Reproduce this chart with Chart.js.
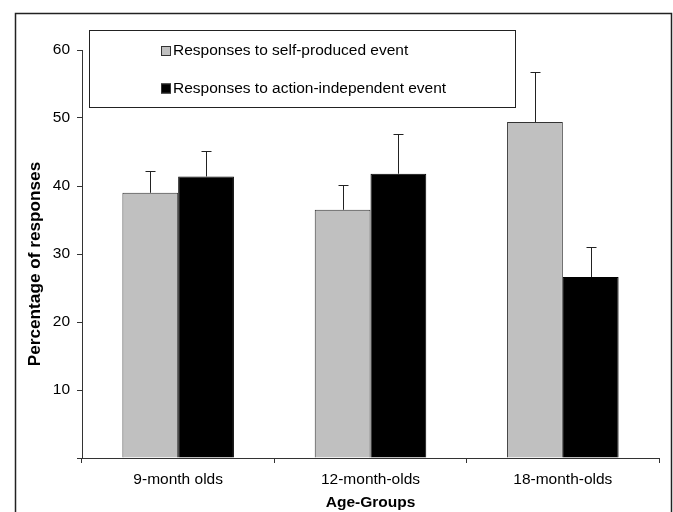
<!DOCTYPE html>
<html>
<head>
<meta charset="utf-8">
<style>
  html, body { margin: 0; padding: 0; background: #fff; }
  #chart { display: block; }
</style>
<script src="https://cdn.jsdelivr.net/npm/chart.js@4/dist/chart.umd.min.js"></script>
</head>
<body>
<canvas id="chart" width="673" height="512"></canvas>
<script>
// Data
const ageGroups = ['9-month olds', '12-month-olds', '18-month-olds'];
const selfProduced = [39.0, 36.5, 49.4];
const selfProducedErr = [3.2, 3.7, 7.3];
const actionIndependent = [41.4, 41.8, 26.6];
const actionIndependentErr = [3.8, 5.9, 4.4];
const yTicks = [0, 10, 20, 30, 40, 50, 60];

const FONT = 'Arial, "Liberation Sans", sans-serif';

// Error bars (only upper whisker)
const errorBarPlugin = {
    id: 'errorBars',
    afterDatasetsDraw(chart) {
        const ctx = chart.ctx;
        const yScale = chart.scales.y;
        ctx.save();
        ctx.strokeStyle = '#222';
        ctx.lineWidth = 1;
        chart.data.datasets.forEach((ds, di) => {
            const meta = chart.getDatasetMeta(di);
            meta.data.forEach((bar, i) => {
                const x = Math.round(bar.x) + 0.5;
                const yTop = yScale.getPixelForValue(ds.data[i]);
                const yErr = Math.round(yScale.getPixelForValue(ds.data[i] + ds.errors[i])) + 0.5;
                ctx.beginPath();
                ctx.moveTo(x, yTop);
                ctx.lineTo(x, yErr);
                ctx.moveTo(x - 5, yErr);
                ctx.lineTo(x + 5, yErr);
                ctx.stroke();
            });
        });
        ctx.restore();
    }
};

// Frame, legend box and titles
const decorPlugin = {
    id: 'decor',
    afterDraw(chart) {
        const ctx = chart.ctx;
        const area = chart.chartArea;
        ctx.save();

        // outer frame
        ctx.strokeStyle = '#222';
        ctx.lineWidth = 1.5;
        ctx.strokeRect(15.5, 13.5, 656, 520);

        // legend box
        ctx.lineWidth = 1;
        ctx.strokeStyle = '#222';
        ctx.strokeRect(89.5, 30.5, 426, 77);

        ctx.font = '15.5px ' + FONT;
        ctx.textAlign = 'left';
        ctx.textBaseline = 'alphabetic';
        const rows = [55, 92.5];
        chart.data.datasets.forEach((ds, i) => {
            const y = rows[i];
            ctx.fillStyle = ds.backgroundColor;
            ctx.fillRect(161, y - 9, 10, 10);
            ctx.strokeStyle = '#333';
            ctx.strokeRect(161.5, y - 8.5, 9, 9);
            ctx.fillStyle = '#000';
            ctx.fillText(ds.label, 173, y);
        });

        // axis titles
        ctx.font = 'bold 15.5px ' + FONT;
        ctx.textAlign = 'center';
        ctx.textBaseline = 'middle';
        ctx.fillStyle = '#000';
        ctx.fillText('Age-Groups', (area.left + area.right) / 2, 503);

        ctx.font = 'bold 17.2px ' + FONT;
        ctx.translate(35, 264);
        ctx.rotate(-Math.PI / 2);
        ctx.fillText('Percentage of responses', 0, 0);
        ctx.restore();
    }
};

const ctx = document.getElementById('chart').getContext('2d');
const chart = new Chart(ctx, {
    type: 'bar',
    data: {
        labels: ageGroups,
        datasets: [{
            label: 'Responses to self-produced event',
            data: selfProduced,
            errors: selfProducedErr,
            backgroundColor: '#c0c0c0',
            borderColor: '#333',
            borderWidth: 1
        }, {
            label: 'Responses to action-independent event',
            data: actionIndependent,
            errors: actionIndependentErr,
            backgroundColor: '#000000',
            borderColor: '#000',
            borderWidth: 1
        }]
    },
    options: {
        responsive: false,
        animation: false,
        devicePixelRatio: 1,
        layout: { padding: { top: 50, right: 14, left: 0, bottom: 0 } },
        plugins: {
            legend: { display: false },
            tooltip: { enabled: false }
        },
        datasets: {
            bar: { categoryPercentage: 0.58, barPercentage: 1 }
        },
        scales: {
            x: {
                offset: true,
                grid: {
                    offset: true,
                    drawOnChartArea: false,
                    drawTicks: true,
                    tickLength: 5,
                    color: '#333'
                },
                border: { display: true, color: '#333', width: 1 },
                ticks: {
                    color: '#000',
                    padding: 7,
                    font: { family: FONT, size: 15.5 }
                },
                afterFit(scale) { scale.height = 54; }
            },
            y: {
                min: 0,
                max: 60,
                afterBuildTicks(scale) {
                    scale.ticks = yTicks.map(v => ({ value: v }));
                },
                grid: {
                    drawOnChartArea: false,
                    drawTicks: true,
                    tickLength: 5,
                    color: '#333'
                },
                border: { display: true, color: '#333', width: 1 },
                ticks: {
                    color: '#000',
                    padding: 7,
                    font: { family: FONT, size: 15.5 },
                    callback: (v) => (v === 0 ? '' : v)
                },
                afterFit(scale) { scale.width = 82; }
            }
        }
    },
    plugins: [errorBarPlugin, decorPlugin]
});
</script>
</body>
</html>
